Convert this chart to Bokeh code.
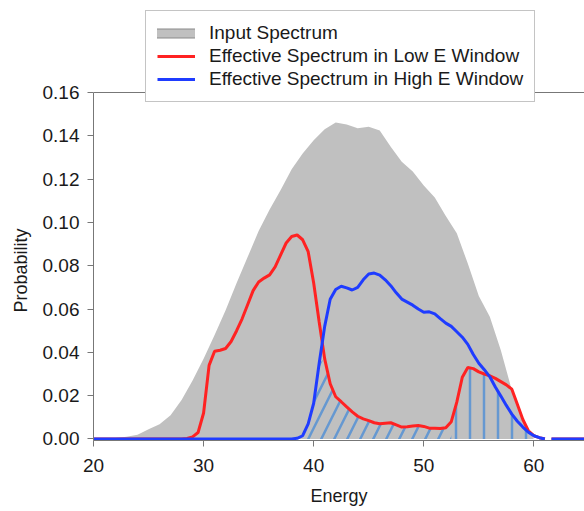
import numpy as np
from bokeh.plotting import figure
from bokeh.models import Legend, LegendItem, FixedTicker, Range1d, Span, Title
from bokeh.embed import file_html
from bokeh.resources import INLINE

# ---------------- data ----------------
energy_grey = [20, 21, 22, 23, 24, 25, 26, 27, 28, 29, 30, 31, 32, 33, 34, 35, 36, 37, 38, 39,
               40, 41, 42, 43, 44, 45, 46, 47, 48, 49, 50, 51, 52, 53, 54, 55, 56, 57, 58, 59, 60]
input_spectrum = [0.0, 0.0, 0.0004, 0.001, 0.002, 0.0045, 0.0068, 0.011, 0.018, 0.027,
                  0.037, 0.048, 0.0595, 0.072, 0.084, 0.096, 0.106, 0.115, 0.1246, 0.1318,
                  0.138, 0.143, 0.1462, 0.1452, 0.1435, 0.1442, 0.1425, 0.135, 0.128, 0.1235,
                  0.117, 0.1115, 0.103, 0.095, 0.081, 0.066, 0.0565, 0.041, 0.0225, 0.008, 0.0]

energy = [20, 27.5, 28, 28.5, 29, 29.5, 30, 30.5, 31, 31.5, 32, 32.5, 33, 33.5, 34, 34.5,
          35, 35.5, 36, 36.5, 37, 37.5, 38, 38.5, 39, 39.5, 40, 40.5, 41, 41.5, 42, 42.5,
          43, 43.5, 44, 44.5, 45, 45.5, 46, 46.5, 47, 47.5, 48, 48.5, 49, 49.5, 50, 50.5,
          51, 51.5, 52, 52.5, 53, 53.5, 54, 54.5, 55, 55.5, 56, 56.5, 57, 57.5, 58, 58.5,
          59, 59.5, 60, 60.5, 61, 61.3, 61.6, 64.6]
low_window = [0.0, 0.0, 0.0, 0.0002, 0.001, 0.003, 0.012, 0.034, 0.0405, 0.041, 0.0418, 0.045,
              0.050, 0.0555, 0.062, 0.0685, 0.0725, 0.0743, 0.0758, 0.0795, 0.085, 0.0905,
              0.0935, 0.0942, 0.092, 0.0865, 0.072, 0.054, 0.037, 0.0255, 0.0195, 0.0172,
              0.0148, 0.0125, 0.0105, 0.0093, 0.0085, 0.0075, 0.007, 0.0073, 0.0075, 0.0065,
              0.0055, 0.0057, 0.006, 0.0062, 0.0058, 0.005, 0.005, 0.0048, 0.0052, 0.008,
              0.017, 0.0285, 0.033, 0.0325, 0.031, 0.030, 0.0292, 0.028, 0.0265, 0.025,
              0.023, 0.016, 0.009, 0.0038, 0.0015, 0.0006, 0.0, float("nan"), 0.0, 0.0]
high_window = [0.0, 0.0, 0.0, 0.0, 0.0, 0.0, 0.0, 0.0, 0.0, 0.0, 0.0, 0.0,
               0.0, 0.0, 0.0, 0.0, 0.0, 0.0, 0.0, 0.0, 0.0, 0.0,
               0.0, 0.0003, 0.0015, 0.007, 0.0165, 0.035, 0.052, 0.0645, 0.069, 0.0705,
               0.0698, 0.0688, 0.0700, 0.0735, 0.0762, 0.0766, 0.0757, 0.0735, 0.0708, 0.0675,
               0.0646, 0.0632, 0.0618, 0.060, 0.0585, 0.0587, 0.0578, 0.0556, 0.0535, 0.052,
               0.0495, 0.047, 0.0437, 0.039, 0.035, 0.032, 0.0287, 0.024, 0.0198, 0.0155,
               0.0115, 0.0082, 0.0055, 0.0031, 0.0015, 0.0006, 0.0, float("nan"), 0.0, 0.0]

hatch_split = 52.5   # diagonal hatch below, vertical hatch above
hatch_end = 61

x_ticks = [20, 30, 40, 50, 60]
y_ticks = [0.0, 0.02, 0.04, 0.06, 0.08, 0.10, 0.12, 0.14, 0.16]
y_tick_labels = ["0.00", "0.02", "0.04", "0.06", "0.08", "0.10", "0.12", "0.14", "0.16"]
y_axis_top = 0.16

labels = ["Input Spectrum",
          "Effective Spectrum in Low E Window",
          "Effective Spectrum in High E Window"]

# ---------------- figure ----------------
FONT = "Liberation Sans"
GREY = "#c0c0c0"
RED = "#ff2222"
BLUE = "#1f3cff"
HATCH = "#5b93d3"
AXIS = "#777777"

Y0 = -0.0007
TOP_PX = 4
# frame spans TOP_PX..440 px; 0.16 must fall at 92 px (348 px above the bottom)
y_top = Y0 + (y_axis_top - Y0) * (440.0 - TOP_PX) / 348.0

p = figure(width=584, height=511, output_backend="svg", toolbar_location=None,
           x_range=Range1d(20, 64.6), y_range=Range1d(Y0, y_top),
           min_border_left=93, min_border_right=0, min_border_top=TOP_PX, min_border_bottom=71)
p.outline_line_color = None
p.grid.visible = False
p.background_fill_color = "white"
p.border_fill_color = "white"

# input spectrum area
p.varea(x=energy_grey, y1=0, y2=input_spectrum, fill_color=GREY, fill_alpha=1.0)

# overlap (hatched) region = min of the two window spectra
e = np.array(energy, dtype=float)
lo = np.array(low_window, dtype=float)
hi = np.array(high_window, dtype=float)
overlap = np.minimum(lo, hi)
m1 = e <= hatch_split
m2 = (e >= hatch_split) & (e <= hatch_end)
p.varea(x=e[m1], y1=0, y2=overlap[m1], fill_color=None,
        hatch_pattern="/", hatch_color=HATCH, hatch_weight=2.5, hatch_scale=26, hatch_alpha=0.9)
p.varea(x=e[m2], y1=0, y2=overlap[m2], fill_color=None,
        hatch_pattern="|", hatch_color=HATCH, hatch_weight=2.5, hatch_scale=14, hatch_alpha=0.9)

red = p.line(x=energy, y=low_window, line_color=RED, line_width=3)
blue = p.line(x=energy, y=high_window, line_color=BLUE, line_width=3)

# legend-only glyphs for the grey box (no visible data)
nan2 = [float("nan"), float("nan")]
box_border = p.line(x=nan2, y=nan2, line_width=10, line_color="#8a8a8a", line_cap="square")
box_fill = p.line(x=nan2, y=nan2, line_width=8, line_color=GREY, line_cap="square")

# ---------------- axes ----------------
for ax in (p.xaxis[0], p.yaxis[0]):
    ax.axis_line_color = AXIS
    ax.major_tick_line_color = AXIS
    ax.minor_tick_line_color = None
    ax.major_tick_in = 0
    ax.major_tick_out = 6
    ax.major_label_text_font = FONT
    ax.major_label_text_font_size = "19px"
    ax.major_label_text_color = "#1a1a1a"
    ax.axis_label_text_font = FONT
    ax.axis_label_text_font_size = "18px"
    ax.axis_label_text_font_style = "normal"
    ax.axis_label_text_color = "#1a1a1a"

p.xaxis.ticker = FixedTicker(ticks=x_ticks)
p.yaxis.ticker = FixedTicker(ticks=y_ticks)
p.yaxis.major_label_overrides = dict(zip(y_ticks, y_tick_labels))
p.yaxis.bounds = (Y0, y_axis_top)
p.xaxis.axis_label = "Energy"
p.xaxis.major_label_standoff = 12
p.xaxis.axis_label_standoff = 11
p.yaxis.major_label_standoff = 8

# value-axis title, placed beside the 0..0.16 part of the axis
p.add_layout(Title(text="Probability", align="left", offset=128, vertical_align="middle",
                   standoff=16, text_font=FONT, text_font_size="18px",
                   text_font_style="normal", text_color="#1a1a1a"), "left")

# top frame line at the top of the value axis
p.add_layout(Span(location=y_axis_top, dimension="width", line_color=AXIS, line_width=1))

# ---------------- legend ----------------
legend = Legend(items=[LegendItem(label=labels[0], renderers=[box_border, box_fill]),
                       LegendItem(label=labels[1], renderers=[red]),
                       LegendItem(label=labels[2], renderers=[blue])],
                location=(52, 338), margin=0, padding=11, spacing=1,
                glyph_width=38, glyph_height=20, label_height=20, label_standoff=14,
                label_text_font=FONT, label_text_font_size="19px", label_text_color="#1a1a1a",
                border_line_color="#8a8a8a", border_line_width=1,
                background_fill_color="white", background_fill_alpha=1.0)
p.add_layout(legend)

open("out.html", "w").write(file_html(p, INLINE))
